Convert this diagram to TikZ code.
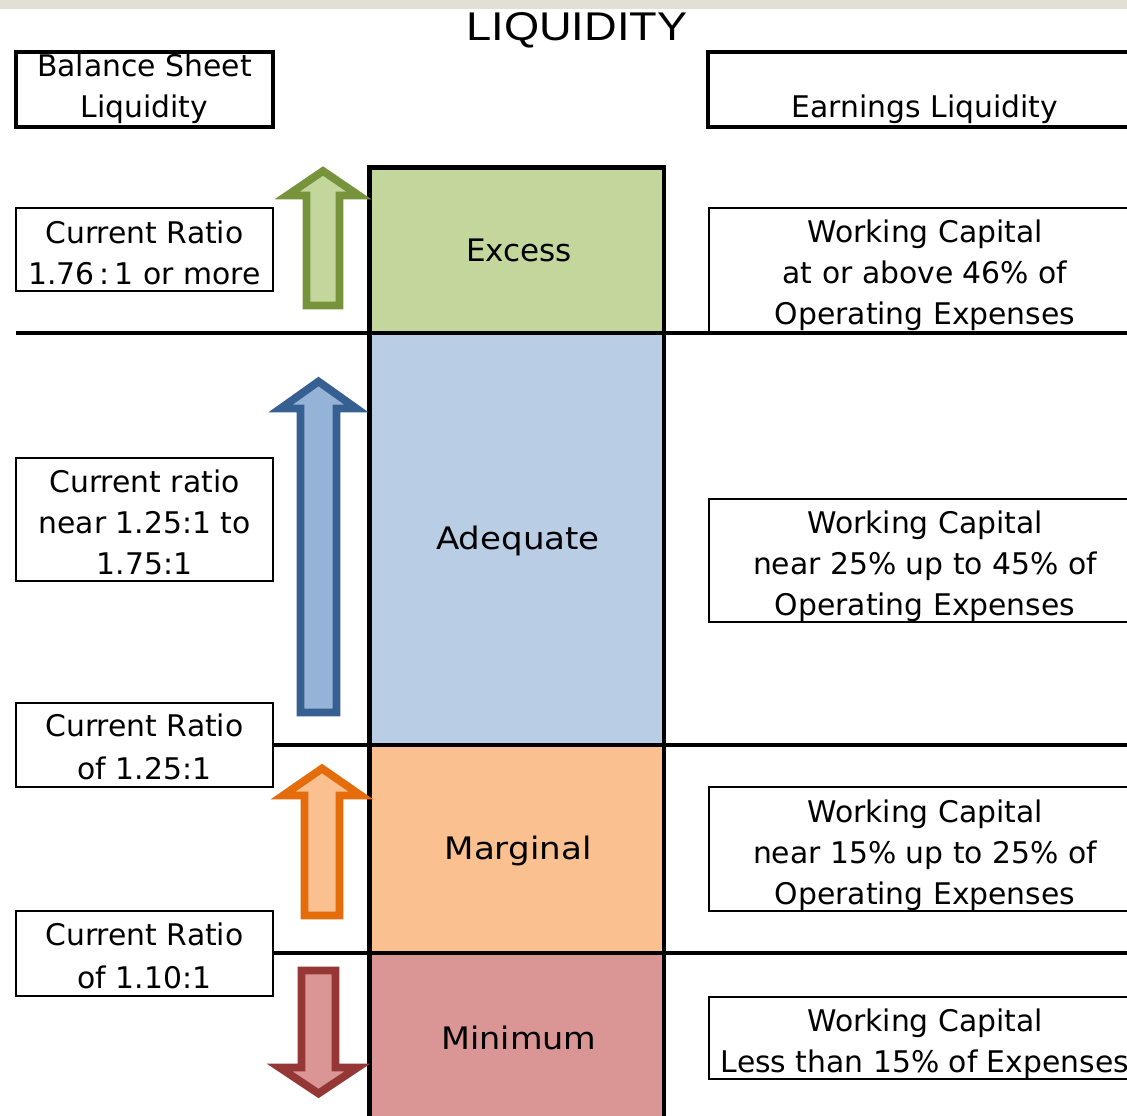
\documentclass[tikz,border=0pt]{standalone}
\usepackage{fontspec}
\setmainfont{DejaVu Sans}
\newfontfamily\titlefont{Liberation Sans}
\definecolor{topband}{RGB}{226,224,214}
\definecolor{exfill}{RGB}{195,214,155}
\definecolor{exline}{RGB}{119,147,60}
\definecolor{adfill}{RGB}{185,205,229}
\definecolor{adarrow}{RGB}{149,179,215}
\definecolor{adline}{RGB}{55,96,146}
\definecolor{mafill}{RGB}{250,192,143}
\definecolor{maline}{RGB}{228,108,10}
\definecolor{mifill}{RGB}{217,150,148}
\definecolor{miline}{RGB}{149,55,53}
\newcommand\bodyfont{\fontsize{29.8}{41}\selectfont}
\newcommand\bandfont{\fontsize{31}{31}\selectfont}
\newcommand\liqarrow[7]{%
  \draw[#1] (#2,#3) -- ({#2+#5},#4) -- ({#2+#6},#4) -- ({#2+#6},#7)
    -- ({#2-#6},#7) -- ({#2-#6},#4) -- ({#2-#5},#4) -- cycle;}
\tikzset{
  band/.style={draw=none, inner sep=0pt, minimum width=294.5pt},
  bandtext/.style={inner sep=0pt, font=\bandfont},
  topbox/.style={draw=black, line width=3.3pt, fill=white, inner sep=0pt},
  smallbox/.style={draw=black, line width=2.6pt, fill=white, inner sep=0pt},
  txt/.style={inner sep=0pt, align=center, font=\bodyfont},
  sepline/.style={line width=4pt},
  colline/.style={line width=4.8pt},
  arr/.style={line width=7.8pt, line join=miter, miter limit=10}
}
\begin{document}
\begin{tikzpicture}[x=1pt,y=-1pt]
\useasboundingbox (0,0) rectangle (1127,1116);
\clip (0,0) rectangle (1127,1116);
\fill[topband] (0,0) rectangle (1127,9);
\node[inner sep=0pt] (title) at (577,30)
  {\resizebox{221pt}{28pt}{\titlefont\fontsize{40}{40}\selectfont LIQUIDITY}};

% column bands
\node[band, fill=exfill, minimum height=166pt] (excess) at (516.75,250.25) {};
\node[band, fill=adfill, minimum height=412pt] (adequate) at (516.75,539) {};
\node[band, fill=mafill, minimum height=208pt] (marginal) at (516.75,849) {};
\node[band, fill=mifill, minimum height=170pt] (minimum) at (516.75,1038) {};
\node[bandtext] (excesst) at (519,250) {Excess};
\node[bandtext] (adequatet) at (518,541) {\scalebox{1.1}[1]{Adequate}};
\node[bandtext] (marginalt) at (518,851) {\scalebox{1.1}[1]{Marginal}};
\node[bandtext] (minimumt) at (519,1038) {\scalebox{1.08}[1]{Minimum}};

% separator lines
\coordinate (s1l) at (16,333);   \coordinate (s1r) at (1130,333);
\coordinate (s2l) at (273,745);  \coordinate (s2r) at (1130,745);
\coordinate (s3l) at (273,953);  \coordinate (s3r) at (1130,953);
\draw[sepline] (s2l) -- (s2r);
\draw[sepline] (s3l) -- (s3r);

% column border
\coordinate (cbl) at (369.5,1125); \coordinate (ctl) at (369.5,167.5);
\coordinate (ctr) at (664,167.5);  \coordinate (cbr) at (664,1125);
\draw[colline] (cbl) -- (ctl) -- (ctr) -- (cbr);

% header boxes
\node[topbox, minimum width=257pt, minimum height=75pt] (bsbox) at (144.5,89.5) {};
\node[txt] (bstext) at (144.5,89) {Balance Sheet\\Liquidity};
\node[topbox, minimum width=440pt, minimum height=75pt] (elbox) at (928,89.5) {};
\node[txt] (eltext) at (925,109) {Earnings Liquidity};

% left boxes
\node[smallbox, minimum width=257pt, minimum height=83pt] (cr1) at (144.5,249.5) {};
\node[txt] (cr1t) at ([yshift=-3.5pt]cr1.center) {Current Ratio\\1.76\,:\,1 or more};
\node[smallbox, minimum width=257pt, minimum height=123pt] (cr2) at (144.5,519.5) {};
\node[txt] (cr2t) at ([yshift=-3pt]cr2.center) {Current ratio\\near 1.25:1 to\\1.75:1};
\node[smallbox, minimum width=257pt, minimum height=84pt] (cr3) at (144.5,745) {};
\node[txt] (cr3t) at ([yshift=-2pt]cr3.center) {Current Ratio\\[2pt]of 1.25:1};
\node[smallbox, minimum width=257pt, minimum height=85pt] (cr4) at (144.5,953.5) {};
\node[txt] (cr4t) at ([yshift=-2pt]cr4.center) {Current Ratio\\[2pt]of 1.10:1};

% right boxes
\node[smallbox, minimum width=432pt, minimum height=125pt] (wc1) at (925,270.5) {};
\node[txt] (wc1t) at ([yshift=-5pt]wc1.center) {Working Capital\\at or above 46\% of\\Operating Expenses};
\node[smallbox, minimum width=432pt, minimum height=123pt] (wc2) at (925,560.5) {};
\node[txt] (wc2t) at ([yshift=-5.5pt]wc2.center) {Working Capital\\near 25\% up to 45\% of\\Operating Expenses};
\node[smallbox, minimum width=432pt, minimum height=124pt] (wc3) at (925,849) {};
\node[txt] (wc3t) at ([yshift=-6pt]wc3.center) {Working Capital\\near 15\% up to 25\% of\\Operating Expenses};
\node[smallbox, minimum width=432pt, minimum height=82pt] (wc4) at (925,1038) {};
\node[txt] (wc4t) at ([yshift=-5.5pt]wc4.center) {Working Capital\\Less than 15\% of Expenses};
\draw[sepline] (s1l) -- (s1r);

% arrows
\liqarrow{arr, draw=exline, fill=exfill}{323}{171}{195.5}{36}{16.5}{305.5}
\liqarrow{arr, draw=adline, fill=adarrow}{318.5}{381.5}{408.5}{38}{18}{712.5}
\liqarrow{arr, draw=maline, fill=mafill}{322}{768.5}{795.5}{39}{17.5}{915.5}
\liqarrow{arr, draw=miline, fill=mifill}{318.5}{1093.5}{1067.5}{39}{17}{970.5}
\end{tikzpicture}
\end{document}
